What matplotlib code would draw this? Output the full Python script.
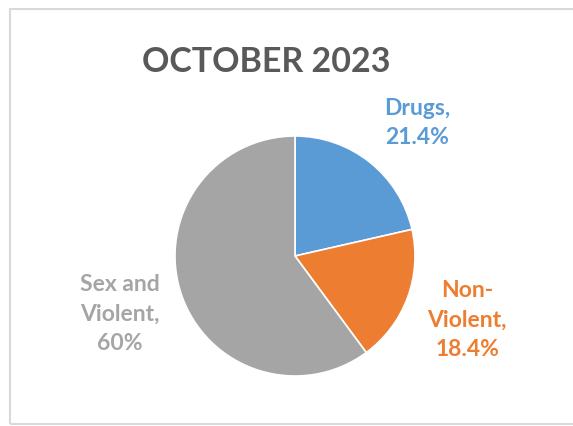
import matplotlib
matplotlib.use("Agg")
import matplotlib.pyplot as plt
from matplotlib.patches import Rectangle

categories = ["Drugs", "Non-Violent", "Sex and Violent"]
values = [21.4, 18.4, 60]
value_labels = ["21.4%", "18.4%", "60%"]
colors = ["#5B9BD5", "#ED7D31", "#A5A5A5"]
title = "OCTOBER 2023"

plt.rcParams['font.family'] = ['Lato', 'DejaVu Sans']

W, H = 573, 427
fig = plt.figure(figsize=(W / 100, H / 100), dpi=100)
ax = fig.add_axes([0, 0, 1, 1])

ax.add_patch(Rectangle((9.5, 2.5), W, H - 12, fill=False, edgecolor='#D9D9D9', lw=1.5))

ax.pie(values, colors=colors, startangle=90, counterclock=False,
       center=(295, H - 257), radius=120,
       wedgeprops=dict(edgecolor='white', linewidth=1.2), frame=True)
ax.set_xlim(0, W)
ax.set_ylim(0, H)
ax.set_aspect('equal')
ax.axis('off')

ax.text(266, H - 62, title, ha='center', va='center', fontsize=24.5,
        fontweight='bold', color='#595959')

label_pos = [(417, H - 123), (467, H - 320), (120, H - 314)]
label_text = [f"{categories[0]},\n{value_labels[0]}",
              "Non-\nViolent,\n" + value_labels[1],
              "Sex and\nViolent,\n" + value_labels[2]]
for (x, y), t, c in zip(label_pos, label_text, colors):
    ax.text(x, y, t, ha='center', va='center', fontsize=16.5, fontweight='bold',
            color=c, linespacing=1.5)

fig.savefig("out.png", dpi=100)
